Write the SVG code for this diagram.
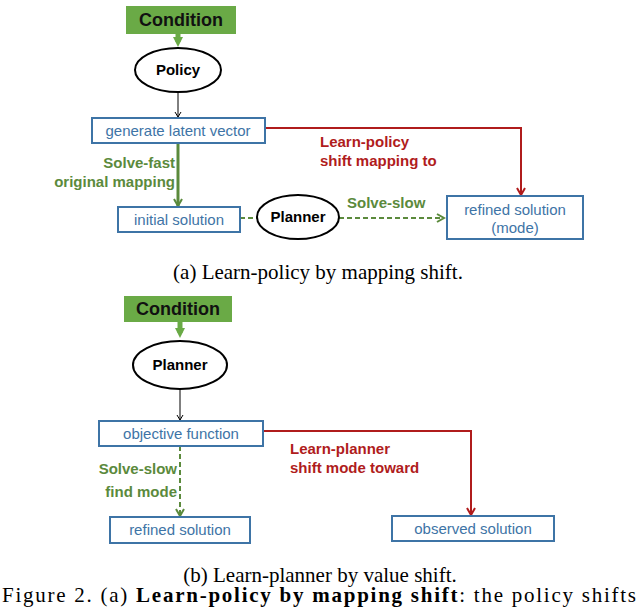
<svg xmlns="http://www.w3.org/2000/svg" width="640" height="608" viewBox="0 0 640 608">
<style>
.cond{fill:#6aaa46}
.ct{font:bold 18px "Liberation Sans",Arial,sans-serif;fill:#111;text-anchor:middle}
.ell{fill:#fff;stroke:#000;stroke-width:2}
.et{font:bold 15px "Liberation Sans",Arial,sans-serif;fill:#000;text-anchor:middle}
.box{fill:#fff;stroke:#3e74a6;stroke-width:2}
.bt{font:15px "Liberation Sans",Arial,sans-serif;fill:#3e74a6;text-anchor:middle}
.gl{font:bold 15px "Liberation Sans",Arial,sans-serif;fill:#5b8a3c}
.rl{font:bold 15px "Liberation Sans",Arial,sans-serif;fill:#b01c1c}
.cap{font:21px "Liberation Serif","Times New Roman",serif;fill:#000}
.k{stroke:#000;stroke-width:1;fill:none}
.g{stroke:#5b8a3c;stroke-width:3;fill:none}
.gd{stroke:#5b8a3c;stroke-width:2;fill:none;stroke-dasharray:5,3}
.r{stroke:#b01c1c;stroke-width:2;fill:none}
.ga{stroke:#6aaa46;stroke-width:5;fill:none}
</style>
<defs>
<marker id="mk" markerWidth="8" markerHeight="8" refX="6" refY="4" orient="auto" markerUnits="userSpaceOnUse"><path d="M1,1 L6,4 L1,7" fill="none" stroke="#000"/></marker>
<marker id="mg" markerWidth="10" markerHeight="10" refX="8" refY="5" orient="auto" markerUnits="userSpaceOnUse"><path d="M1,1 L8,5 L1,9" fill="none" stroke="#5b8a3c" stroke-width="2"/></marker>
<marker id="mr" markerWidth="10" markerHeight="10" refX="8" refY="5" orient="auto" markerUnits="userSpaceOnUse"><path d="M1,1 L8,5 L1,9" fill="none" stroke="#b01c1c" stroke-width="2"/></marker>
<marker id="mc" markerWidth="10" markerHeight="10" refX="5" refY="5" orient="auto" markerUnits="userSpaceOnUse"><path d="M0,0 L10,5 L0,10 Z" fill="#6aaa46"/></marker>
</defs>
<g id="connectors">
<path class="ga" d="M178,34 V42" marker-end="url(#mc)"/>
<path class="k" d="M178,92 V117" marker-end="url(#mk)"/>
<path class="g" d="M178,143 V206" marker-end="url(#mg)"/>
<path class="gd" d="M240,218 H257"/>
<path class="gd" d="M339,218 H444" marker-end="url(#mg)"/>
<path class="r" d="M265,128 H521 V195" marker-end="url(#mr)"/>
<path class="ga" d="M180,322 V333" marker-end="url(#mc)"/>
<path class="k" d="M180,389 V420" marker-end="url(#mk)"/>
<path class="gd" d="M180,446 V516" marker-end="url(#mg)"/>
<path class="r" d="M263,431 H471 V515" marker-end="url(#mr)"/>
<text class="gl" x="175" y="168" text-anchor="end">Solve-fast</text>
<text class="gl" x="175" y="187" text-anchor="end">original mapping</text>
<text class="gl" x="347" y="208">Solve-slow</text>
<text class="rl" x="320" y="147">Learn-policy</text>
<text class="rl" x="320" y="166">shift mapping to</text>
<text class="gl" x="177" y="474" text-anchor="end">Solve-slow</text>
<text class="gl" x="177" y="497" text-anchor="end">find mode</text>
<text class="rl" x="290" y="454">Learn-planner</text>
<text class="rl" x="290" y="473">shift mode toward</text>
</g>
<g id="condA"><rect class="cond" x="126" y="6" width="110" height="28"/><text class="ct" x="181" y="26">Condition</text></g>
<g id="policy"><ellipse class="ell" cx="178" cy="70" rx="43" ry="22"/><text class="et" x="178" y="75">Policy</text></g>
<g id="latent"><rect class="box" x="92" y="118" width="173" height="25"/><text class="bt" x="178" y="136">generate latent vector</text></g>
<g id="initial"><rect class="box" x="118" y="207" width="122" height="25"/><text class="bt" x="179" y="225">initial solution</text></g>
<g id="plannerA"><ellipse class="ell" cx="298" cy="217" rx="41" ry="22"/><text class="et" x="298" y="222">Planner</text></g>
<g id="refinedA"><rect class="box" x="447" y="196" width="136" height="43"/><text class="bt" x="515" y="215">refined solution</text><text class="bt" x="515" y="233">(mode)</text></g>
<text class="cap" x="318" y="279" text-anchor="middle">(a) Learn-policy by mapping shift.</text>
<g id="condB"><rect class="cond" x="124" y="296" width="108" height="26"/><text class="ct" x="178" y="315">Condition</text></g>
<g id="plannerB"><ellipse class="ell" cx="180" cy="365" rx="47" ry="24"/><text class="et" x="180" y="370">Planner</text></g>
<g id="objective"><rect class="box" x="99" y="421" width="164" height="25"/><text class="bt" x="181" y="439">objective function</text></g>
<g id="refinedB"><rect class="box" x="110" y="517" width="140" height="26"/><text class="bt" x="180" y="535">refined solution</text></g>
<g id="observed"><rect class="box" x="392" y="516" width="162" height="25"/><text class="bt" x="473" y="534">observed solution</text></g>
<text class="cap" x="320" y="582" text-anchor="middle">(b) Learn-planner by value shift.</text>
<text class="cap" x="2" y="602" font-size="20" textLength="634" lengthAdjust="spacing">Figure 2. (a) <tspan font-weight="bold">Learn-policy by mapping shift</tspan>: the policy shifts</text>
</svg>
